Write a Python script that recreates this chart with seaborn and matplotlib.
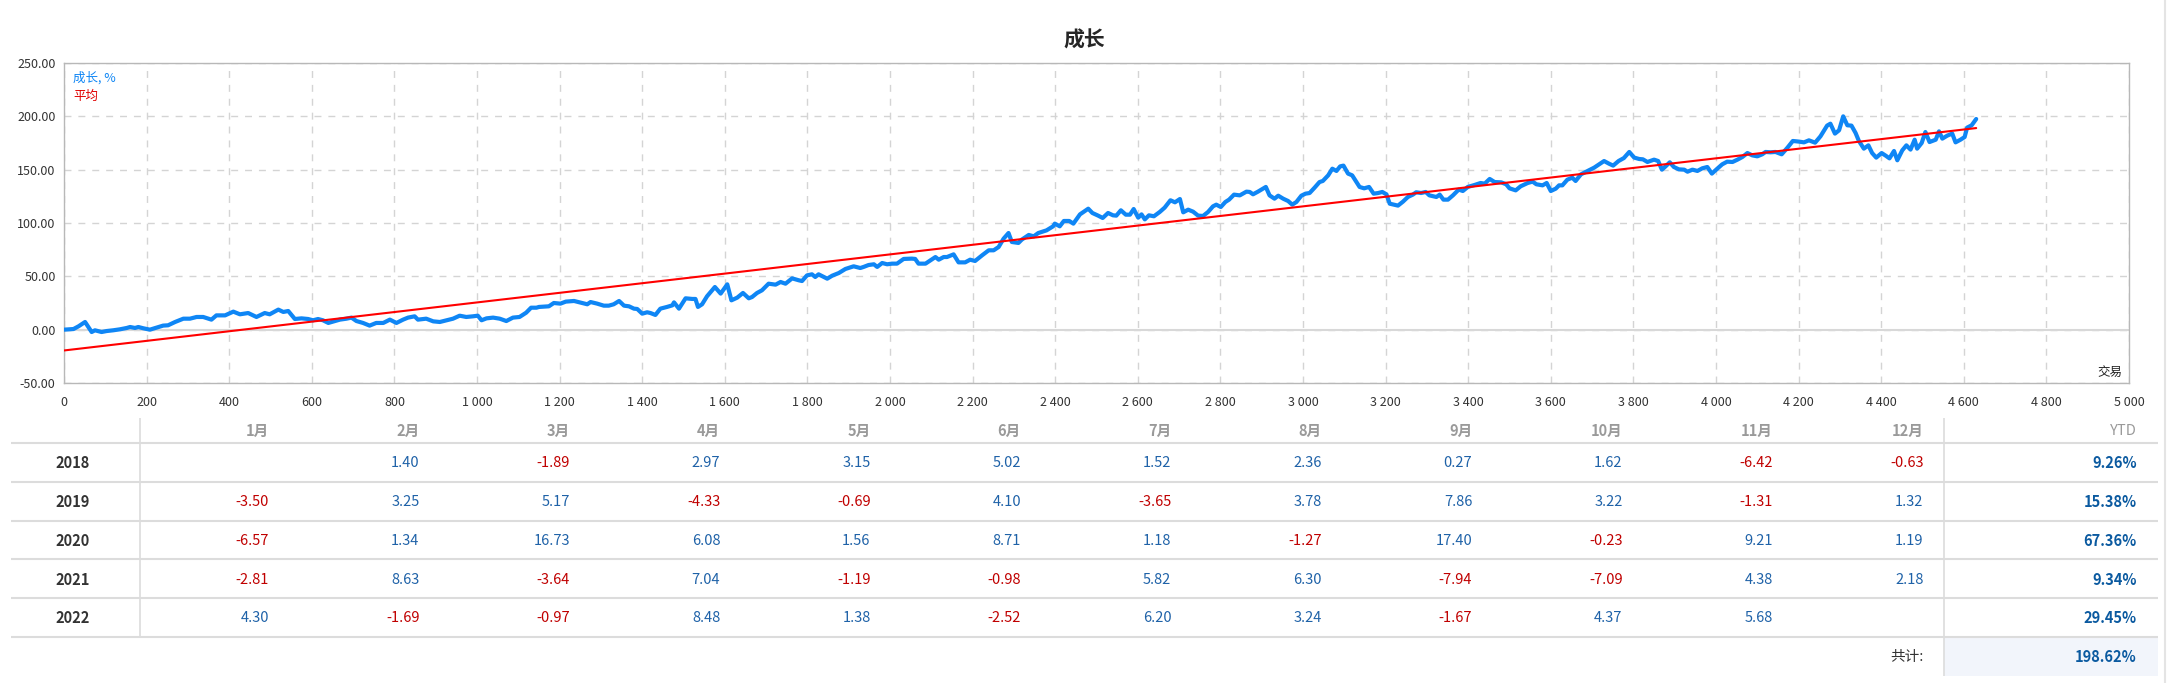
import numpy as np
import pandas as pd
import matplotlib
matplotlib.use("Agg")
import matplotlib.pyplot as plt
from matplotlib.ticker import FuncFormatter, MultipleLocator
from matplotlib.patches import Rectangle
import seaborn as sns

# growth curve in four pieces (trade number, growth %)
trades_1 = [0, 23, 35, 51, 67, 75, 91, 103, 119, 135, 152, 160, 172, 180, 192, 208, 224, 240, 252, 269,
            289, 305, 321, 337, 357, 369, 390, 410, 426, 446, 466, 486, 498, 519, 531, 543, 559, 575, 591, 603,
            615, 627, 640, 656, 668, 684, 696, 708, 724, 740, 756, 773, 789, 805, 821, 833, 849, 857, 877, 894,
            910, 926, 942, 958, 974, 990, 1002, 1011, 1023, 1039, 1055, 1071, 1087, 1103, 1119, 1131, 1144]
growth_1 = [0, 0.6, 3.1, 7.2, -2.2, -0.6, -2.2, -1.3, -0.6, 0.3, 1.6, 2.5, 1.6, 2.5, 1.3, 0, 1.9, 3.8, 4.1, 7.2,
            10.3, 10.3, 11.9, 11.9, 9.4, 13.4, 13.4, 16.9, 14.4, 15.6, 11.9, 15.6, 14.4, 18.8, 16.6, 17.5, 10, 10.6, 10, 8.8,
            10, 8.8, 6.3, 8.1, 9.4, 10.3, 11.3, 8.1, 6.3, 3.8, 6.3, 6.3, 9.4, 6.3, 9.4, 11.3, 12.5, 9.4, 10.3, 7.8,
            7.2, 8.8, 10.3, 13.1, 11.9, 12.5, 13.1, 8.8, 10.6, 11.3, 10.3, 8.1, 11.3, 11.9, 15.9, 20.6, 20.6]

trades_2 = [1150, 1174, 1186, 1202, 1215, 1235, 1251, 1267, 1275, 1291, 1307, 1319, 1331, 1344, 1356, 1368, 1380, 1388, 1400, 1412,
            1420, 1432, 1444, 1460, 1473, 1477, 1489, 1505, 1521, 1529, 1535, 1545, 1557, 1576, 1590, 1606, 1616, 1630, 1644, 1658,
            1666, 1678, 1690, 1706, 1723, 1735, 1747, 1763, 1779, 1787, 1799, 1811, 1819, 1827, 1848, 1860, 1876, 1892, 1912, 1928,
            1936, 1948, 1961, 1969, 1981, 1993, 2005, 2017, 2033, 2053, 2061, 2069, 2086, 2098, 2110, 2118, 2130, 2138, 2154, 2166,
            2182, 2194, 2206, 2223, 2239, 2251, 2263, 2275, 2287, 2295, 2311, 2319, 2336]
growth_2 = [21.3, 21.9, 25, 24.4, 26.3, 26.9, 25.3, 23.8, 25.9, 24.4, 22.5, 22.5, 23.8, 26.9, 22.5, 21.9, 19.7, 19.4, 15, 16.3,
            15.6, 13.8, 19.7, 21.3, 22.8, 25.6, 19.7, 29.4, 28.8, 28.8, 21.3, 23.8, 31.3, 40, 33.8, 42.5, 27.5, 30, 34.4, 29.4,
            30.6, 34.4, 36.9, 43.1, 42.2, 44.7, 43.1, 48.1, 46.3, 45.6, 50.9, 51.9, 49.4, 51.9, 47.8, 50.6, 53.1, 56.9, 59.4, 57.8,
            58.8, 60.6, 61.3, 58.8, 62.5, 61.3, 61.9, 61.9, 66.3, 66.6, 66.3, 61.9, 61.9, 65, 68.1, 65.6, 68.1, 68.1, 70.6, 63.1,
            63.1, 65.6, 64.4, 69.7, 74.4, 74.4, 77.5, 85.3, 90.6, 82.2, 81.3, 84.4, 88.8]

trades_3 = [2348, 2359, 2379, 2395, 2399, 2411, 2421, 2434, 2444, 2460, 2480, 2490, 2504, 2515, 2528, 2540, 2548, 2559, 2571, 2581,
            2590, 2601, 2609, 2617, 2627, 2639, 2653, 2665, 2679, 2690, 2702, 2710, 2722, 2734, 2746, 2758, 2770, 2782, 2790, 2801,
            2812, 2821, 2833, 2847, 2863, 2871, 2879, 2891, 2910, 2919, 2931, 2940, 2952, 2964, 2974, 2984, 2996, 3006, 3016, 3028,
            3040, 3048, 3061, 3071, 3081, 3090, 3098, 3109, 3119, 3137, 3148, 3160, 3171, 3182, 3192, 3202, 3210, 3230, 3242, 3254,
            3266, 3274, 3286, 3297, 3306, 3323, 3331, 3340, 3351, 3363, 3377, 3387, 3399, 3415, 3430, 3440, 3452, 3464, 3480, 3492,
            3500]
growth_3 = [87.5, 90.6, 93.1, 96.9, 99.4, 96.9, 101.9, 101.9, 99.4, 108.1, 113.4, 109.4, 106.9, 104.7, 109.4, 107.2, 106.9, 111.9, 107.8, 107.8,
            113.1, 105, 108.1, 103.4, 107.2, 106.3, 110.3, 114.4, 121.3, 119.4, 122.5, 110, 112.5, 110.6, 106.9, 106.6, 110.3, 115.6, 117.2, 115,
            119.7, 121.9, 126.6, 125.9, 129.4, 129.1, 126.9, 129.4, 133.8, 125.9, 122.8, 125.6, 122.8, 120.6, 117.2, 119.7, 125.6, 127.5, 128.1, 133.1,
            138.4, 139.4, 144.7, 150.9, 148.8, 153.1, 153.8, 146.3, 144.7, 133.8, 132.5, 133.8, 127.5, 128.1, 129.1, 126.9, 118.1, 116.3, 120, 124.4,
            126.6, 128.8, 128.1, 129.1, 125.9, 124.4, 126.6, 121.9, 121.9, 125.9, 131.3, 130, 133.8, 135.6, 137.5, 136.9, 141.3, 138.4, 138.1, 136.3,
            132.5]

trades_4 = [3515, 3527, 3544, 3556, 3565, 3580, 3590, 3600, 3612, 3620, 3628, 3640, 3652, 3660, 3673, 3689, 3705, 3717, 3729, 3741,
            3751, 3764, 3777, 3790, 3802, 3814, 3823, 3834, 3850, 3860, 3869, 3878, 3888, 3898, 3910, 3923, 3931, 3943, 3955, 3967,
            3979, 3990, 4003, 4015, 4027, 4040, 4052, 4064, 4076, 4088, 4100, 4112, 4120, 4132, 4144, 4159, 4173, 4186, 4201, 4213,
            4225, 4240, 4253, 4269, 4277, 4288, 4298, 4308, 4318, 4328, 4338, 4346, 4358, 4369, 4378, 4388, 4401, 4411, 4420, 4431,
            4439, 4451, 4461, 4471, 4481, 4487, 4498, 4507, 4517, 4532, 4540, 4548, 4560, 4572, 4580, 4592, 4602, 4608, 4619, 4630]
growth_4 = [130.6, 134.4, 137.5, 138.8, 136.3, 135.3, 137.5, 130, 132.2, 135.3, 135.3, 140.6, 142.5, 139.4, 145.6, 148.8, 151.9, 155, 158.1, 155.6,
            153.8, 158.1, 160.9, 166.6, 161.3, 160, 159.7, 157.2, 159.4, 158.1, 150, 153.1, 156.9, 152.5, 150.3, 150, 148.1, 150, 148.8, 151.3,
            152.5, 146.3, 150.9, 155, 157.5, 157.2, 159.4, 161.9, 165.6, 163.4, 162.5, 164.4, 166.6, 166.3, 166.6, 164.4, 170.6, 176.9, 176.3, 175.6,
            177.5, 175.3, 181.3, 191.3, 193.1, 183.8, 186.9, 200, 191.6, 191.3, 184.4, 176.9, 169.7, 172.8, 165.6, 161.3, 165.6, 163.1, 160.6, 167.5,
            158.8, 168.1, 172.8, 168.8, 178.1, 169.7, 175, 185.3, 175.9, 178.1, 185.9, 179.1, 181.9, 183.8, 175.6, 178.1, 180.6, 189.4, 191.6, 197.5]

# average (trend) line end points
avg_trades = [0, 4630]
avg_growth = [-19.5, 189.0]

# monthly table
months = ["1月", "2月", "3月", "4月", "5月", "6月", "7月", "8月", "9月", "10月", "11月", "12月"]
years = ["2018", "2019", "2020", "2021", "2022"]
monthly = [
    [None, 1.40, -1.89, 2.97, 3.15, 5.02, 1.52, 2.36, 0.27, 1.62, -6.42, -0.63],
    [-3.50, 3.25, 5.17, -4.33, -0.69, 4.10, -3.65, 3.78, 7.86, 3.22, -1.31, 1.32],
    [-6.57, 1.34, 16.73, 6.08, 1.56, 8.71, 1.18, -1.27, 17.40, -0.23, 9.21, 1.19],
    [-2.81, 8.63, -3.64, 7.04, -1.19, -0.98, 5.82, 6.30, -7.94, -7.09, 4.38, 2.18],
    [4.30, -1.69, -0.97, 8.48, 1.38, -2.52, 6.20, 3.24, -1.67, 4.37, 5.68, None],
]
ytd = [9.26, 15.38, 67.36, 9.34, 29.45]
total = 198.62

trades = trades_1 + trades_2 + trades_3 + trades_4
growth = growth_1 + growth_2 + growth_3 + growth_4
df = pd.DataFrame({"trades": trades, "growth": growth})

sns.set_style("white")
plt.rcParams["font.family"] = ["Noto Sans CJK SC", "DejaVu Sans"]

BLUE = "#0f86f5"
POS = "#1f62a8"
NEG = "#c00000"

W, H = 2169, 683
fig = plt.figure(figsize=(W / 100, H / 100), dpi=100)

# overlay in pixel units for the table part
tab = fig.add_axes([0, 0, 1, 1])
tab.set_xlim(0, W)
tab.set_ylim(H, 0)
tab.axis("off")

ax = fig.add_axes([64 / W, 1 - 383 / H, (2129 - 64) / W, 320 / H])
sns.lineplot(data=df, x="trades", y="growth", ax=ax, color=BLUE, lw=3,
             estimator=None, sort=False, zorder=3)
sns.lineplot(x=avg_trades, y=avg_growth, ax=ax, color="#ff0000", lw=1.5,
             estimator=None, zorder=4)

ax.set_xlim(0, 5000)
ax.set_ylim(-50, 250)
ax.xaxis.set_major_locator(MultipleLocator(200))
ax.yaxis.set_major_locator(MultipleLocator(50))
ax.xaxis.set_major_formatter(FuncFormatter(lambda v, p: f"{int(v):,}".replace(",", " ")))
ax.yaxis.set_major_formatter(FuncFormatter(lambda v, p: f"{v:.2f}"))
ax.grid(True, ls=(0, (5, 5)), color="#d4d4d4", lw=1)
ax.axhline(0, color="#d8d8d8", lw=1.5, zorder=1)
for s in ax.spines.values():
    s.set_color("#b8b8b8")
    s.set_linewidth(1)
ax.tick_params(length=0, labelsize=9, colors="#333333")
ax.tick_params(axis="x", pad=9)
ax.tick_params(axis="y", pad=6)
ax.set_xlabel("")
ax.set_ylabel("")

ax.text(0.0045, 0.953, "成长, %", transform=ax.transAxes, color=BLUE, fontsize=9, va="center")
ax.text(0.0045, 0.894, "平均", transform=ax.transAxes, color="#e00000", fontsize=9, va="center")
ax.text(0.9966, 0.034, "交易", transform=ax.transAxes, color="#222222", fontsize=9,
        ha="right", va="center")

fig.text(0.5, 1 - 40 / H, "成长", fontsize=15, fontweight="bold", ha="center", va="center")

# table
col_x = [269 + 150.4 * i for i in range(12)]
ytd_x = 2137
row_y = [463, 502, 541, 580, 618]

for x, m in zip(col_x, months):
    tab.text(x, 431, m, ha="right", va="center", fontsize=10.5, color="#9a9a9a", fontweight="bold")
tab.text(ytd_x, 431, "YTD", ha="right", va="center", fontsize=10.5, color="#9a9a9a")

tab.add_patch(Rectangle((1944, 637), 2158 - 1944, 39, color="#f2f5fb", lw=0, zorder=0))

for y, yr, vals, yv in zip(row_y, years, monthly, ytd):
    tab.text(73, y, yr, ha="center", va="center", fontsize=10.5, fontweight="bold", color="#333333")
    for x, v in zip(col_x, vals):
        if v is None:
            continue
        tab.text(x, y, f"{v:.2f}", ha="right", va="center", fontsize=10.5,
                 color=POS if v >= 0 else NEG)
    tab.text(ytd_x, y, f"{yv:.2f}%", ha="right", va="center", fontsize=10.5,
             fontweight="bold", color="#0b5aa0")

tab.text(col_x[-1], 657, "共计:", ha="right", va="center", fontsize=10.5, color="#333333")
tab.text(ytd_x, 657, f"{total:.2f}%", ha="right", va="center", fontsize=10.5,
         fontweight="bold", color="#0b5aa0")

tab.hlines([443, 482, 521, 559, 598, 637], 11, 2158, color="#dcdcdc", lw=1.5)
tab.vlines(140, 418, 637, color="#dcdcdc", lw=1.2)
tab.vlines(1944, 418, 676, color="#dcdcdc", lw=1.2)
tab.vlines(2165, 0, H, color="#e4e4e4", lw=1.5)

fig.savefig("out.png", dpi=100)
